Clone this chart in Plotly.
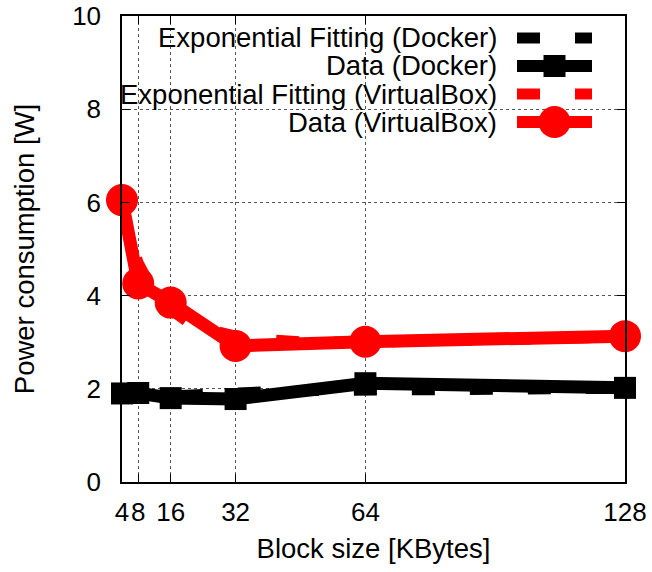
import plotly.graph_objects as go

# ---- data ----
block_sizes = [4, 8, 16, 32, 64, 128]
docker_power = [1.90, 1.91, 1.80, 1.78, 2.12, 2.02]
vbox_power = [6.05, 4.26, 3.85, 2.92, 3.01, 3.13]

fit_x = [4, 6, 8, 10, 12, 16, 20, 24, 32, 40, 48, 64, 80, 96, 112, 128]
docker_fit = [1.80, 1.81, 1.82, 1.83, 1.84, 1.86, 1.88, 1.89, 1.92, 1.94, 1.96, 1.98, 1.99, 2.00, 2.01, 2.01]
vbox_fit = [6.00, 5.20, 4.70, 4.35, 4.05, 3.70, 3.45, 3.30, 3.13, 3.05, 3.01, 3.00, 3.02, 3.05, 3.08, 3.11]

x_ticks = [4, 8, 16, 32, 64, 128]
x_tick_text = ["4", "8", "16", "32", "64", "128"]
y_ticks = [0, 2, 4, 6, 8, 10]

legend_names = ["Exponential Fitting (Docker)", "Data (Docker)",
                "Exponential Fitting (VirtualBox)", "Data (VirtualBox)"]

FONT = "Liberation Sans, Arial, sans-serif"
FS = 27.5
TFS = 26
W, H = 652, 572
ML, MR, MT, MB = 122, 27, 16, 90
PW, PH = W - ML - MR, H - MT - MB

fig = go.Figure()
fig.add_trace(go.Scatter(x=fit_x, y=docker_fit, mode="lines",
                         line=dict(color="black", width=11, dash="23px,35px"),
                         cliponaxis=False, showlegend=False))
fig.add_trace(go.Scatter(x=block_sizes, y=docker_power, mode="lines+markers",
                         line=dict(color="black", width=13),
                         marker=dict(symbol="square", size=22, color="black"),
                         cliponaxis=False, showlegend=False))
fig.add_trace(go.Scatter(x=fit_x, y=vbox_fit, mode="lines",
                         line=dict(color="#ff0000", width=11, dash="23px,35px"),
                         cliponaxis=False, showlegend=False))
fig.add_trace(go.Scatter(x=block_sizes, y=vbox_power, mode="lines+markers",
                         line=dict(color="#ff0000", width=13),
                         marker=dict(symbol="circle", size=32, color="#ff0000"),
                         cliponaxis=False, showlegend=False))

def px(x):
    return (x - ML) / PW

def py(y):
    return (MT + PH - y) / PH

shapes = []
# legend background hiding grid
shapes.append(dict(type="rect", xref="paper", yref="paper", x0=0, x1=px(608),
                   y0=py(137), y1=1, fillcolor="white", line=dict(width=0), layer="between"))
annotations = []
rows = [38, 66, 94, 122]
colors = ["black", "black", "#ff0000", "#ff0000"]
for i, (name, yy, c) in enumerate(zip(legend_names, rows, colors)):
    annotations.append(dict(xref="paper", yref="paper", x=px(499), y=py(yy), text=name,
                            showarrow=False, xanchor="right", yanchor="middle",
                            font=dict(family=FONT, size=FS, color="black")))
    if i % 2 == 0:
        shapes.append(dict(type="line", xref="paper", yref="paper", x0=px(517), x1=px(540),
                           y0=py(yy), y1=py(yy), line=dict(color=c, width=11)))
        shapes.append(dict(type="line", xref="paper", yref="paper", x0=px(575), x1=px(592),
                           y0=py(yy), y1=py(yy), line=dict(color=c, width=11)))
    else:
        shapes.append(dict(type="line", xref="paper", yref="paper", x0=px(517), x1=px(592),
                           y0=py(yy), y1=py(yy), line=dict(color=c, width=12)))
        cx = 554.5
        if i == 1:
            shapes.append(dict(type="rect", xref="paper", yref="paper", x0=px(cx - 11), x1=px(cx + 11),
                               y0=py(yy + 11), y1=py(yy - 11), fillcolor=c, line=dict(width=0)))
        else:
            shapes.append(dict(type="circle", xref="paper", yref="paper", x0=px(cx - 16), x1=px(cx + 16),
                               y0=py(yy + 16), y1=py(yy - 16), fillcolor=c, line=dict(width=0)))

fig.update_layout(
    width=W, height=H,
    margin=dict(l=ML, r=MR, t=MT, b=MB, autoexpand=False),
    plot_bgcolor="white", paper_bgcolor="white",
    font=dict(family=FONT, size=TFS, color="black"),
    shapes=shapes, annotations=annotations,
    xaxis=dict(range=[4, 128], tickvals=x_ticks, ticktext=x_tick_text, tickangle=0,
               showline=True, mirror="allticks", linecolor="black", linewidth=1.5,
               ticks="inside", ticklen=8, tickcolor="black",
               showgrid=True, gridcolor="#555555", griddash="dot", gridwidth=1,
               zeroline=False, ticklabelstandoff=6, automargin=False,
               tickfont=dict(family=FONT, size=TFS),
               title=dict(text="Block size [KBytes]", standoff=13,
                          font=dict(family=FONT, size=FS))),
    yaxis=dict(range=[0, 10], tickvals=y_ticks,
               showline=True, mirror="allticks", linecolor="black", linewidth=1.5,
               ticks="inside", ticklen=8, tickcolor="black",
               showgrid=True, gridcolor="#555555", griddash="dot", gridwidth=1,
               zeroline=False, ticklabelstandoff=14, automargin=False,
               tickfont=dict(family=FONT, size=TFS),
               title=dict(text="Power consumption [W]", standoff=30,
                          font=dict(family=FONT, size=FS))),
)

fig.write_html("out.html")
